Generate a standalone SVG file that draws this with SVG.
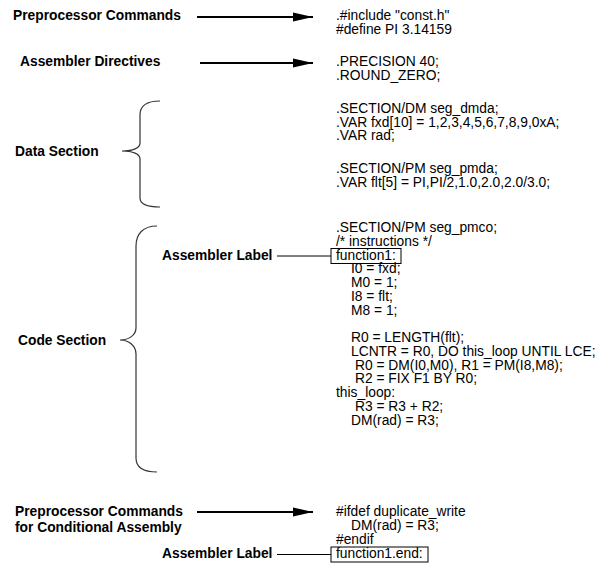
<svg xmlns="http://www.w3.org/2000/svg" width="598" height="577" viewBox="0 0 598 577">
<style>
.lbl{font-family:"Liberation Sans",Arial,sans-serif;font-size:13.8px;font-weight:bold;fill:#000}
.code{font-family:"Liberation Sans",Arial,sans-serif;font-size:13.8px;fill:#000}
.arr{stroke:#000;stroke-width:1.8;fill:none}
.thin{stroke:#000;stroke-width:1;fill:none}
.brace{stroke:#333;stroke-width:1.2;fill:none}
.box{stroke:#000;stroke-width:1;fill:none}
</style>
<defs>
<marker id="ah" markerWidth="20" markerHeight="10" refX="20" refY="5" orient="auto" markerUnits="userSpaceOnUse">
<path d="M0,0.5 L20,5 L0,9.5 Z" fill="#000"/>
</marker>
</defs>
<rect width="598" height="577" fill="#fff"/>

<g id="lbl-preproc"><text class="lbl" x="13" y="20">Preprocessor Commands</text></g>
<g id="lbl-directives"><text class="lbl" x="20" y="66">Assembler Directives</text></g>
<g id="lbl-data"><text class="lbl" x="15" y="156">Data Section</text></g>
<g id="lbl-code"><text class="lbl" x="18" y="345">Code Section</text></g>
<g id="lbl-asmlabel1"><text class="lbl" x="162" y="259.5">Assembler Label</text></g>
<g id="lbl-preproc2"><text class="lbl" x="15" y="516">Preprocessor Commands</text><text class="lbl" x="15" y="532">for Conditional Assembly</text></g>
<g id="lbl-asmlabel2"><text class="lbl" x="162" y="558">Assembler Label</text></g>

<g id="code-preproc">
<text class="code" x="336" y="20">.#include "const.h"</text>
<text class="code" x="336" y="33.5">#define PI 3.14159</text>
</g>
<g id="code-directives">
<text class="code" x="336" y="66">.PRECISION 40;</text>
<text class="code" x="336" y="79.5">.ROUND_ZERO;</text>
</g>
<g id="code-data">
<text class="code" x="336" y="113">.SECTION/DM seg_dmda;</text>
<text class="code" x="336" y="126.5">.VAR fxd[10] = 1,2,3,4,5,6,7,8,9,0xA;</text>
<text class="code" x="336" y="140">.VAR rad;</text>
<text class="code" x="336" y="173">.SECTION/PM seg_pmda;</text>
<text class="code" x="336" y="186.5">.VAR flt[5] = PI,PI/2,1.0,2.0,2.0/3.0;</text>
</g>
<g id="code-code">
<text class="code" x="336" y="232">.SECTION/PM seg_pmco;</text>
<text class="code" x="336" y="245.75">/* instructions */</text>
<text class="code" x="336" y="259.5">function1:</text>
<text class="code" x="351" y="273.25">I0 = fxd;</text>
<text class="code" x="351" y="287">M0 = 1;</text>
<text class="code" x="351" y="300.75">I8 = flt;</text>
<text class="code" x="351" y="314.5">M8 = 1;</text>
<text class="code" x="351" y="342">R0 = LENGTH(flt);</text>
<text class="code" x="351" y="355.75">LCNTR = R0, DO this_loop UNTIL LCE;</text>
<text class="code" x="355" y="369.5">R0 = DM(I0,M0), R1 = PM(I8,M8);</text>
<text class="code" x="355" y="383.25">R2 = FIX F1 BY R0;</text>
<text class="code" x="336" y="397">this_loop:</text>
<text class="code" x="355" y="410.75">R3 = R3 + R2;</text>
<text class="code" x="351" y="424.5">DM(rad) = R3;</text>
</g>
<g id="code-cond">
<text class="code" x="336" y="516">#ifdef duplicate_write</text>
<text class="code" x="351" y="529.75">DM(rad) = R3;</text>
<text class="code" x="336" y="543.5">#endif</text>
<text class="code" x="336" y="558">function1.end:</text>
</g>
<g id="box-function1"><rect class="box" x="331" y="248.5" width="70" height="15"/></g>
<g id="box-function1end"><rect class="box" x="331" y="547" width="97" height="15"/></g>

<g id="brace-data"><path class="brace" d="M160,101 C147,101 140,106 140,115 L140,143 C140,148 133,151 122,151 C133,151 140,154 140,159 L140,198 C140,204 147,207 160,207"/></g>
<g id="brace-code"><path class="brace" d="M157,226 C143,226 136,234 136,246 L136,328 C136,335 129,340 120,340 C129,340 136,346 136,354 L136,458 C136,467 143,472 157,472"/></g>

<g id="connectors">
<line class="arr" x1="197" y1="17" x2="313" y2="17" marker-end="url(#ah)"/>
<line class="arr" x1="200" y1="63" x2="313" y2="63" marker-end="url(#ah)"/>
<line class="arr" x1="197" y1="512" x2="313" y2="512" marker-end="url(#ah)"/>
<line class="thin" x1="277" y1="256" x2="331" y2="256"/>
<line class="thin" x1="277" y1="554.5" x2="331" y2="554.5"/>
</g>
</svg>
